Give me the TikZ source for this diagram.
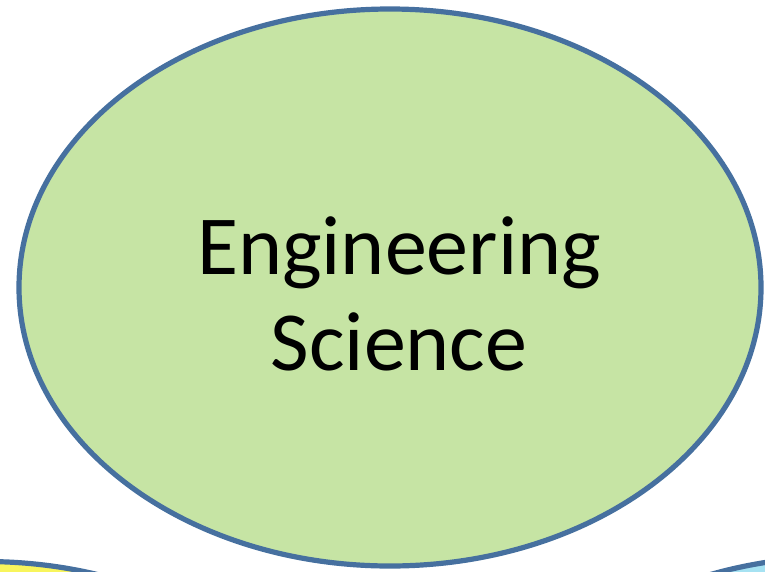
\documentclass[tikz,border=0pt]{standalone}
\usepackage{fontspec}
\setmainfont{Carlito}
\usetikzlibrary{shapes.geometric}
\definecolor{edgeblue}{HTML}{46709F}
\definecolor{greenfill}{HTML}{C6E4A4}
\definecolor{yellowfill}{HTML}{F8F55C}
\definecolor{cyanfill}{HTML}{A6E2F2}
\begin{document}
\begin{tikzpicture}[x=1pt,y=-1pt,
  bubble/.style={ellipse, draw=edgeblue, line width=5.2pt, inner sep=0pt,
    minimum width=742pt, minimum height=557pt},
  title/.style={align=center, font=\fontsize{84}{96}\selectfont, text=black}]
  \useasboundingbox (0,0) rectangle (765,571);
  \clip (0,0) rectangle (765,571);
  % neighbouring bubbles peeking in at the bottom corners
  \node[bubble, fill=yellowfill] (left) at (-15,840) {};
  \node[bubble, fill=cyanfill] (right) at (842,835) {};
  % main bubble
  \node[bubble, fill=greenfill] (eng) at (390,287.5) {};
  \node[title] (engtext) at (399,294) {Engineering\\Science};
\end{tikzpicture}
\end{document}
